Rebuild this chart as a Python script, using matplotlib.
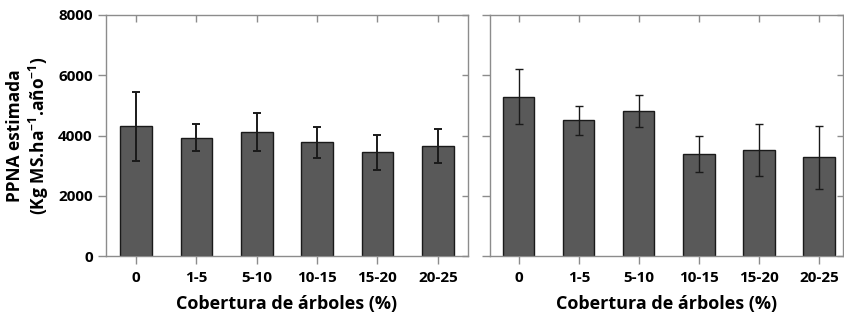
import matplotlib.pyplot as plt
import numpy as np

plt.rcParams['font.family'] = ['Open Sans', 'DejaVu Sans']
plt.rcParams['font.weight'] = 'bold'
plt.rcParams['mathtext.fontset'] = 'custom'
plt.rcParams['mathtext.bf'] = 'Open Sans:bold'
plt.rcParams['mathtext.rm'] = 'Open Sans:bold'

categorias = ['0', '1-5', '5-10', '10-15', '15-20', '20-25']

# PPNA media y desvio por clase de cobertura
ppna_a = [4310, 3920, 4130, 3770, 3440, 3650]
err_a = [1150, 450, 630, 510, 570, 565]
ppna_b = [5290, 4500, 4820, 3400, 3520, 3270]
err_b = [905, 475, 540, 600, 875, 1035]

yticks = [0, 2000, 4000, 6000, 8000]

fig = plt.figure(figsize=(8.44, 3.2), dpi=100)
ax1 = fig.add_axes([106 / 844, 64 / 320, 362 / 844, 241 / 320])
ax2 = fig.add_axes([490 / 844, 64 / 320, 353 / 844, 241 / 320])

spine_col = '#8c8c8c'
x = np.arange(len(categorias))

for ax, vals, errs, lw, xmin, xmax in [(ax1, ppna_a, err_a, 1.4, -0.5, 5.5),
                                        (ax2, ppna_b, err_b, 1.0, -0.48, 5.4)]:
    ax.bar(x, vals, width=0.52, color='#595959', edgecolor='#1a1a1a',
           linewidth=1.0, zorder=2)
    ax.errorbar(x, vals, yerr=errs, fmt='none', ecolor='#1a1a1a',
                elinewidth=lw, capsize=3, capthick=lw, zorder=3)
    ax.set_xlim(xmin, xmax)
    ax.set_ylim(0, 8000)
    ax.set_xticks(x)
    ax.set_xticklabels(categorias, fontsize=11, fontweight='bold')
    ax.set_yticks(yticks)
    for s in ax.spines.values():
        s.set_color(spine_col)
        s.set_linewidth(1.0)
    ax.tick_params(axis='both', which='both', color=spine_col, width=1.0)
    ax.tick_params(axis='x', direction='out', length=6, pad=5,
                   top=True, labeltop=False)
    ax.tick_params(axis='y', direction='out', length=6, right=True)
    ax.set_xlabel('Cobertura de árboles (%)', fontsize=13,
                  fontweight='bold', labelpad=7)

# ticks en los ejes superiores y derechos hacia adentro
for ax in (ax1, ax2):
    for t in ax.xaxis.get_major_ticks():
        t.tick2line.set_marker(3)
        t.tick2line.set_markersize(5)
    for t in ax.yaxis.get_major_ticks():
        t.tick2line.set_marker(0)
        t.tick2line.set_markersize(4)

ax1.set_yticklabels([str(v) for v in yticks], fontsize=11, fontweight='bold')
ax2.set_yticklabels([])
ax1.set_ylabel('PPNA estimada\n(Kg MS.ha$^{\\mathbf{-1}}$.año$^{\\mathbf{-1}}$)',
               fontsize=12.5, fontweight='bold', labelpad=5, linespacing=1.15)

fig.savefig('out.png', dpi=100)
